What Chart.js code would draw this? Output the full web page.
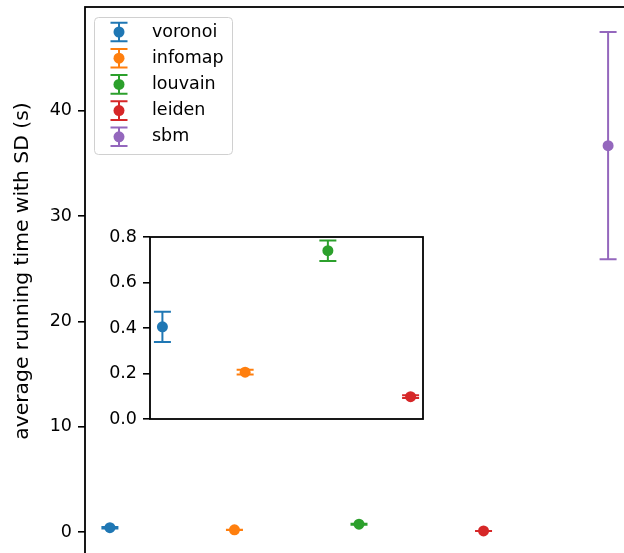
<!DOCTYPE html>
<html>
<head>
<meta charset="utf-8">
<script src="https://cdn.jsdelivr.net/npm/chart.js@4.4.1/dist/chart.umd.min.js"></script>
<style>
  body { margin: 0; background: #fff; }
  #wrap { position: relative; width: 624px; height: 553px; overflow: hidden; }
  #main { position: absolute; left: 0; top: 0; }
  #inset { position: absolute; left: 90px; top: 220px; }
</style>
</head>
<body>
<div id="wrap">
  <canvas id="main" width="660" height="580"></canvas>
  <canvas id="inset" width="360" height="220"></canvas>
</div>
<script>
// running time per method (seconds), mean and standard deviation
const methods = ['voronoi', 'infomap', 'louvain', 'leiden', 'sbm'];
const meanTime = [0.405, 0.206, 0.740, 0.098, 36.7];
const sdTime = [0.066, 0.010, 0.045, 0.006, 10.8];
const mainTicks = [0, 10, 20, 30, 40];
const insetTicks = [0.0, 0.2, 0.4, 0.6, 0.8];
const yTitle = 'average running time with SD (s)';
const colors = ['#1f77b4', '#ff7f0e', '#2ca02c', '#d62728', '#9467bd'];

Chart.defaults.font.family = 'DejaVu Sans';
Chart.defaults.font.size = 17.5;
Chart.defaults.color = '#000';

const CAP = 8.5;

// error bars, drawn under the markers
const errorBars = {
  id: 'errorBars',
  beforeDatasetsDraw(chart) {
    const ctx = chart.ctx;
    const yScale = chart.scales.y;
    ctx.save();
    ctx.lineWidth = 2;
    chart.data.datasets.forEach((ds, i) => {
      const meta = chart.getDatasetMeta(i);
      meta.data.forEach((pt, j) => {
        const v = ds.data[j].y;
        const top = yScale.getPixelForValue(v + ds.sd[j]);
        const bot = yScale.getPixelForValue(v - ds.sd[j]);
        ctx.strokeStyle = ds.backgroundColor;
        ctx.beginPath();
        ctx.moveTo(pt.x, top); ctx.lineTo(pt.x, bot);
        ctx.moveTo(pt.x - CAP, top); ctx.lineTo(pt.x + CAP, top);
        ctx.moveTo(pt.x - CAP, bot); ctx.lineTo(pt.x + CAP, bot);
        ctx.stroke();
      });
    });
    ctx.restore();
  }
};

// axes box (spines)
const frame = {
  id: 'frame',
  afterDraw(chart) {
    const a = chart.chartArea;
    const ctx = chart.ctx;
    ctx.save();
    ctx.strokeStyle = '#000';
    ctx.lineWidth = 1.8;
    ctx.strokeRect(a.left, a.top, a.right - a.left, a.bottom - a.top);
    ctx.restore();
  }
};

// y axis label, placed like the original figure
const yLabel = {
  id: 'yLabel',
  afterDraw(chart) {
    const ctx = chart.ctx;
    ctx.save();
    ctx.translate(28, 271);
    ctx.rotate(-Math.PI / 2);
    ctx.textAlign = 'center';
    ctx.textBaseline = 'alphabetic';
    ctx.fillStyle = '#000';
    ctx.font = '20.3px "DejaVu Sans"';
    ctx.fillText(yTitle, 0, 0);
    ctx.restore();
  }
};

// matplotlib style legend with errorbar glyphs
const legendBox = {
  id: 'legendBox',
  afterDraw(chart) {
    const ctx = chart.ctx;
    const x0 = 94, y0 = 17, w = 138, h = 137, r = 4;
    ctx.save();
    ctx.fillStyle = 'rgba(255,255,255,0.8)';
    ctx.strokeStyle = '#d0d0d0';
    ctx.lineWidth = 1;
    ctx.beginPath();
    ctx.roundRect(x0 + 0.5, y0 + 0.5, w, h, r);
    ctx.fill();
    ctx.stroke();
    ctx.textBaseline = 'middle';
    ctx.font = '17.5px "DejaVu Sans"';
    methods.forEach((m, i) => {
      const cy = 32 + i * 26.2, cx = 119;
      ctx.strokeStyle = colors[i];
      ctx.fillStyle = colors[i];
      ctx.lineWidth = 2;
      ctx.beginPath();
      ctx.moveTo(cx, cy - 9.3); ctx.lineTo(cx, cy + 9.3);
      ctx.moveTo(cx - CAP, cy - 9.3); ctx.lineTo(cx + CAP, cy - 9.3);
      ctx.moveTo(cx - CAP, cy + 9.3); ctx.lineTo(cx + CAP, cy + 9.3);
      ctx.stroke();
      ctx.beginPath();
      ctx.arc(cx, cy, 5.5, 0, Math.PI * 2);
      ctx.fill();
      ctx.fillStyle = '#000';
      ctx.fillText(m, 152, cy);
    });
    ctx.restore();
  }
};

function makeSets(n) {
  return methods.slice(0, n).map((m, i) => ({
    label: m,
    data: [{ x: i, y: meanTime[i] }],
    sd: [sdTime[i]],
    backgroundColor: colors[i],
    borderWidth: 0,
    pointRadius: 5.5,
    pointHoverRadius: 5.5
  }));
}

function yAxis(ticks, min, max, width, fmt) {
  return {
    min: min,
    max: max,
    afterBuildTicks: s => { s.ticks = ticks.map(v => ({ value: v })); },
    afterFit: s => { s.width = width; s.paddingTop = 0; s.paddingBottom = 0; },
    ticks: { padding: 6, callback: fmt },
    grid: { drawOnChartArea: false, drawTicks: true, tickLength: 7, color: '#000', lineWidth: 1.6 },
    border: { display: false },
    title: { display: false }
  };
}

const mainChart = new Chart(document.getElementById('main'), {
  type: 'scatter',
  data: { datasets: makeSets(5) },
  options: {
    responsive: false,
    animation: false,
    devicePixelRatio: 1,
    layout: { padding: { left: 0, top: 7, right: 27, bottom: 24 } },
    plugins: { legend: { display: false }, tooltip: { enabled: false } },
    scales: {
      x: { type: 'linear', min: -0.2, max: 4.2, display: false },
      y: yAxis(mainTicks, -2.28, 49.87, 85, v => String(v))
    }
  },
  plugins: [errorBars, frame, yLabel, legendBox]
});

const insetChart = new Chart(document.getElementById('inset'), {
  type: 'scatter',
  data: { datasets: makeSets(4) },
  options: {
    responsive: false,
    animation: false,
    devicePixelRatio: 1,
    layout: { padding: { left: 0, top: 17, right: 27, bottom: 21 } },
    plugins: { legend: { display: false }, tooltip: { enabled: false } },
    scales: {
      x: { type: 'linear', min: -0.15, max: 3.15, display: false },
      y: yAxis(insetTicks, 0, 0.8, 60, v => v.toFixed(1))
    }
  },
  plugins: [errorBars, frame]
});
</script>
</body>
</html>
